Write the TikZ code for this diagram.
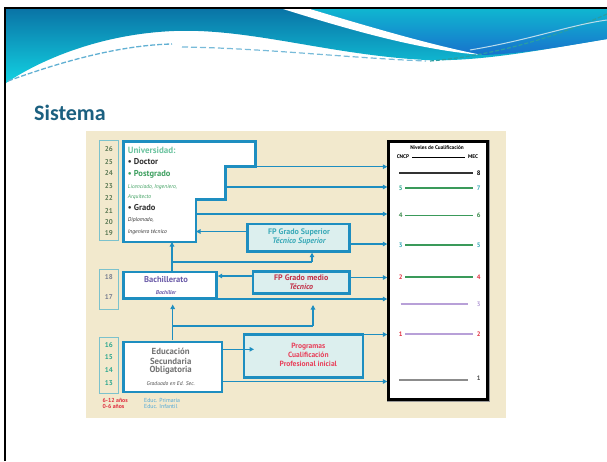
\documentclass[tikz,border=0pt]{standalone}
\usepackage{fontspec}
\setmainfont{PT Sans}
\newfontfamily\titlefont{Carlito}
\usetikzlibrary{arrows.meta}
\definecolor{cblue}{HTML}{1E8EC0}
\definecolor{beige}{HTML}{F2E9CD}
\definecolor{cfill}{HTML}{DCEFEE}
\definecolor{cage}{HTML}{7CC2CC}
\definecolor{hdark}{HTML}{0A74A6}
\definecolor{hlight}{HTML}{12D2E2}
\definecolor{tdark}{HTML}{1B6080}
\definecolor{ugreen}{HTML}{6CC4A0}
\definecolor{pgreen}{HTML}{3EA060}
\definecolor{dtext}{HTML}{303030}
\definecolor{olive}{HTML}{5D7A55}
\definecolor{bgrey}{HTML}{7A8090}
\definecolor{tgreen}{HTML}{30A890}
\definecolor{fpteal}{HTML}{3AAAB8}
\definecolor{fpred}{HTML}{C23048}
\definecolor{pink}{HTML}{E8405A}
\definecolor{purp}{HTML}{6A5AA8}
\definecolor{lpurp}{HTML}{B8A0D8}
\definecolor{lgreen}{HTML}{3A9A5A}
\definecolor{dgreen}{HTML}{3A8A4A}
\definecolor{lred}{HTML}{E03040}
\definecolor{eblue}{HTML}{50A8D8}
\begin{document}
\begin{tikzpicture}[x=1pt,y=-1pt,
  conn/.style={draw=cblue, line width=1.5pt, -{Triangle[length=4.5pt,width=4.5pt]}},
  plain/.style={draw=cblue, line width=1.5pt},
  bbox/.style={draw=cblue, line width=2.6pt, fill=white, inner sep=0pt},
  fpbox/.style={bbox, fill=cfill},
  agebox/.style={draw=cage, line width=1pt, inner sep=0pt, minimum width=19pt},
  age/.style={font=\bfseries\fontsize{7}{7}\selectfont, inner sep=0pt},
  lab/.style={inner sep=0pt, anchor=west},
  lvl/.style={font=\bfseries\fontsize{6.5}{6.5}\selectfont, inner sep=0pt},
  lline/.style={line width=1.3pt}
]
\useasboundingbox (0,0) rectangle (607,461);
\fill[white] (0,0) rectangle (607,461);

% header
\shade[top color=hdark, bottom color=hlight] (6,9) -- (607,9) -- (607,39)
  .. controls (540,50) and (480,62) .. (426,60)
  .. controls (330,55) and (250,28) .. (174,31)
  .. controls (100,34) and (40,60) .. (6,83) -- cycle;
\shade[top color=hlight!70!hdark, bottom color=cblue!80!blue] (310,9) -- (607,9) -- (607,39)
  .. controls (560,47) and (520,54) .. (482,55)
  .. controls (430,45) and (360,24) .. (310,9) -- cycle;
\fill[white] (283,9) .. controls (350,30) and (420,50) .. (482,55)
  .. controls (430,45) and (360,24) .. (310,9) -- cycle;
\draw[cblue!70, line width=1.3pt, dash pattern=on 5pt off 2pt] (8,81) .. controls (60,62) and (120,45) .. (172,44);
\draw[cblue!60, line width=1.2pt, dash pattern=on 6pt off 3pt] (182,47) .. controls (260,48) and (350,58) .. (426,61);
\draw[tgreen!60!cblue, line width=1.2pt, dash pattern=on 4pt off 2pt] (430,61) .. controls (500,55) and (560,35) .. (607,14);
\draw[white!70!cblue, line width=1pt] (470,50) .. controls (530,40) and (570,25) .. (607,20);

% slide frame
\draw[black, line width=2pt] (5,461) -- (5,8) -- (607,8);

% title
\node[inner sep=0pt, anchor=west, text=tdark, font=\titlefont\bfseries\fontsize{22}{22}\selectfont] (title) at (34,113) {Sistema};

% diagram background
\fill[beige] (86,131) rectangle (506,418);

% age boxes
\node[agebox, minimum height=100pt] (ageU) at (109.3,190) {};
\node[agebox, minimum height=40pt] (ageB) at (109.3,289) {};
\node[agebox, minimum height=56pt] (ageE) at (109.3,365.3) {};
\foreach \n/\y in {26/149,25/161.7,24/173.3,23/186,22/198.3,21/211,20/221.7,19/233.3}
  \node[age, text=olive] (a\n) at (108.8,\y) {\n};
\node[age, text=bgrey] (a18) at (108.8,276.7) {18};
\node[age, text=bgrey] (a17) at (108.8,296.7) {17};
\foreach \n/\y in {16/345,15/357.3,14/370,13/383.3}
  \node[age, text=tgreen] (a\n) at (108.8,\y) {\n};

% levels box
\node[draw=black!40, line width=4pt, minimum width=99pt, minimum height=258pt, inner sep=0pt] (levs) at (438,270.5) {};
\node[draw=black, fill=white, line width=2.4pt, minimum width=99pt, minimum height=258pt, inner sep=0pt] (lev) at (438,270.5) {};
\node[inner sep=0pt, font=\bfseries\fontsize{5.3}{5.3}\selectfont] (nivt) at (437,148) {Niveles de Cualificación};
\node[inner sep=0pt, font=\bfseries\fontsize{5.3}{5.3}\selectfont] (cncp) at (403,157) {CNCP};
\node[inner sep=0pt, font=\bfseries\fontsize{5.3}{5.3}\selectfont] (mec) at (473,157) {MEC};
\draw[line width=0.8pt] ([xshift=3pt]cncp.east) -- ([xshift=-3pt]mec.west);
% level lines
\draw[lline, black!80] (399,173) -- (473,173);
\node[lvl] (m8) at (478.7,173) {8};
\node[lvl, text=tgreen] (c5) at (400.7,188) {5};
\draw[lline, lgreen] (405,188) -- (473,188);
\node[lvl, text=fpteal] (m7) at (478.7,188) {7};
\node[lvl, text=dgreen] (c4) at (400.7,215.7) {4};
\draw[lline, lgreen] (405,215.7) -- (473,215.7);
\node[lvl, text=dgreen] (m6) at (478.7,215.7) {6};
\node[lvl, text=fpteal] (c3) at (400.7,245) {3};
\draw[lline, lgreen] (405,245) -- (473,245);
\node[lvl, text=fpteal] (m5) at (478.7,245) {5};
\node[lvl, text=lred] (c2) at (400.7,277) {2};
\draw[lline, lgreen] (405,277) -- (473,277);
\node[lvl, text=lred] (m4) at (478.7,277) {4};
\draw[lline, lpurp] (400.5,304) -- (468,304);
\node[lvl, text=lpurp] (m3) at (478.7,304) {3};
\node[lvl, text=lred] (c1) at (400.7,334) {1};
\draw[lline, lpurp] (405,334) -- (473,334);
\node[lvl, text=lred] (m2) at (478.7,334) {2};
\draw[lline, black!45] (399,380) -- (468,380);
\node[lvl, text=black!70] (m1) at (478.7,378) {1};

% Universidad
\draw[cblue, line width=2.6pt, fill=white, line join=miter]
  (123.6,141.3) -- (255.4,141.3) -- (255.4,166.7) -- (225.4,166.7) -- (225.4,199.7)
  -- (196,199.7) -- (196,242) -- (123.6,242) -- cycle;
\coordinate (u1) at (255.4,166.7);
\coordinate (u2) at (225.4,187);
\coordinate (u3) at (196,214);
\coordinate (u4) at (196,231.5);
\coordinate (ubot) at (172,242);
\node[lab, text=ugreen, font=\bfseries\fontsize{9}{9}\selectfont] (tu) at (127.7,150) {Universidad:};
\node[lab, text=dtext, font=\bfseries\fontsize{8.5}{8.5}\selectfont] (td) at (127.7,161.7) {\textbullet\ Doctor};
\node[lab, text=pgreen, font=\bfseries\fontsize{8.5}{8.5}\selectfont] (tp) at (127.7,174) {\textbullet\ Postgrado};
\node[lab, text=pgreen, font=\itshape\fontsize{5.6}{5.6}\selectfont] (tl) at (127.7,186.7) {Licenciado, Ingeniero,};
\node[lab, text=pgreen, font=\itshape\fontsize{5.6}{5.6}\selectfont] (ta) at (127.7,196.7) {Arquitecto};
\node[lab, text=dtext, font=\bfseries\fontsize{8.5}{8.5}\selectfont] (tg) at (127.7,207.7) {\textbullet\ Grado};
\node[lab, text=dtext, font=\itshape\fontsize{5.6}{5.6}\selectfont] (tdi) at (127.7,220) {Diplomado,};
\node[lab, text=dtext, font=\itshape\fontsize{5.6}{5.6}\selectfont] (tit) at (127.7,231.7) {Ingeniero técnico};

% boxes
\node[fpbox, minimum width=102.4pt, minimum height=27.4pt] (fgs) at (298.5,237.7) {};
\node[inner sep=0pt, text=fpteal, font=\bfseries\fontsize{8}{8}\selectfont] (fgs1) at (299,232.3) {FP Grado Superior};
\node[inner sep=0pt, text=fpteal, font=\bfseries\itshape\fontsize{8}{8}\selectfont] (fgs2) at (299,241.7) {Técnico Superior};

\node[fpbox, minimum width=96.4pt, minimum height=22.4pt] (fgm) at (301.2,282.5) {};
\node[inner sep=0pt, text=fpred, font=\bfseries\fontsize{8}{8}\selectfont] (fgm1) at (301.2,277.3) {FP Grado medio};
\node[inner sep=0pt, text=fpred, font=\bfseries\itshape\fontsize{8}{8}\selectfont] (fgm2) at (301.2,286.7) {Técnico};

\node[bbox, minimum width=92.8pt, minimum height=26.7pt] (bach) at (170,285.3) {};
\node[inner sep=0pt, text=purp, font=\bfseries\fontsize{8.5}{8.5}\selectfont] (bach1) at (166,279.3) {Bachillerato};
\node[inner sep=0pt, text=purp, font=\bfseries\itshape\fontsize{5.6}{5.6}\selectfont] (bach2) at (166,292.3) {Bachiller};

\node[bbox, minimum width=98.4pt, minimum height=50pt] (eso) at (172.8,367) {};
\node[inner sep=0pt, text=black!55, font=\bfseries\fontsize{8.8}{8.8}\selectfont] (eso1) at (170.7,351.7) {Educación};
\node[inner sep=0pt, text=black!55, font=\bfseries\fontsize{8.8}{8.8}\selectfont] (eso2) at (170.7,361) {Secundaria};
\node[inner sep=0pt, text=black!55, font=\bfseries\fontsize{8.8}{8.8}\selectfont] (eso3) at (170.7,370.3) {Obligatoria};
\node[inner sep=0pt, text=black!70, font=\itshape\fontsize{5.6}{5.6}\selectfont] (eso4) at (170.7,383.3) {Graduado en Ed. Sec.};

\node[fpbox, minimum width=119pt, minimum height=43.1pt] (prog) at (303.5,356.2) {};
\node[inner sep=0pt, text=pink, font=\bfseries\fontsize{7.5}{7.5}\selectfont] (p1) at (308.3,346.5) {Programas};
\node[inner sep=0pt, text=pink, font=\bfseries\fontsize{7.5}{7.5}\selectfont] (p2) at (308.3,355.2) {Cualificación};
\node[inner sep=0pt, text=pink, font=\bfseries\fontsize{7.5}{7.5}\selectfont] (p3) at (308.3,364) {Profesional inicial};

% connectors to levels
\draw[conn] (u1) -- (u1 -| lev.west);
\draw[conn] (u2) -- (u2 -| lev.west);
\draw[conn] (u3) -- (u3 -| lev.west);
\coordinate (g1) at (fgs.east |- 0,244);
\draw[conn] (g1) -- (g1 -| lev.west);
\coordinate (g2) at (fgm.east |- 0,277.5);
\draw[conn] (g2) -- (g2 -| lev.west);
\coordinate (g3) at (bach.east |- 0,299);
\draw[conn] (g3) -- (g3 -| lev.west);
\coordinate (g4) at (prog.east |- 0,334.5);
\draw[conn] (g4) -- (g4 -| lev.west);
\coordinate (g5) at (eso.east |- 0,381.5);
\draw[conn] (g5) -- (g5 -| lev.west);

% internal connectors
\coordinate (s1) at (fgs.west |- u4);
\draw[conn] (s1) -- (u4);
\coordinate (s2) at (fgm.west |- 0,276);
\draw[conn] (s2) -- (s2 -| bach.east);
\draw[conn] (bach.north -| ubot) -- (ubot);
\coordinate (j1) at (172,262);
\coordinate (j2) at (312,262);
\draw[plain] (j1) -- (j2);
\draw[conn] (j2) -- (j2 |- fgs.south);
\coordinate (e1) at (172.7,340);
\coordinate (e2) at (172.7,304.5);
\draw[conn] (e1) -- (e2);
\coordinate (j3) at (172.7,326);
\coordinate (j4) at (313,326);
\coordinate (j5) at (313,305);
\draw[plain] (j3) -- (j4);
\draw[conn] (j4) -- (j5);
\coordinate (e3) at (eso.east |- 0,349.3);
\coordinate (pin) at (254,349.3);
\draw[conn] (e3) -- (pin);

% footer
\node[lab, text=lred, font=\bfseries\fontsize{5.8}{5.8}\selectfont] (f1) at (102.5,400.7) {6-12 años};
\node[lab, text=lred, font=\bfseries\fontsize{5.8}{5.8}\selectfont] (f2) at (102.5,406.7) {0-6 años};
\node[lab, text=eblue, font=\fontsize{5.8}{5.8}\selectfont] (f3) at (144,400.7) {Educ. Primaria};
\node[lab, text=eblue, font=\fontsize{5.8}{5.8}\selectfont] (f4) at (144,406.7) {Educ. Infantil};
\end{tikzpicture}
\end{document}
